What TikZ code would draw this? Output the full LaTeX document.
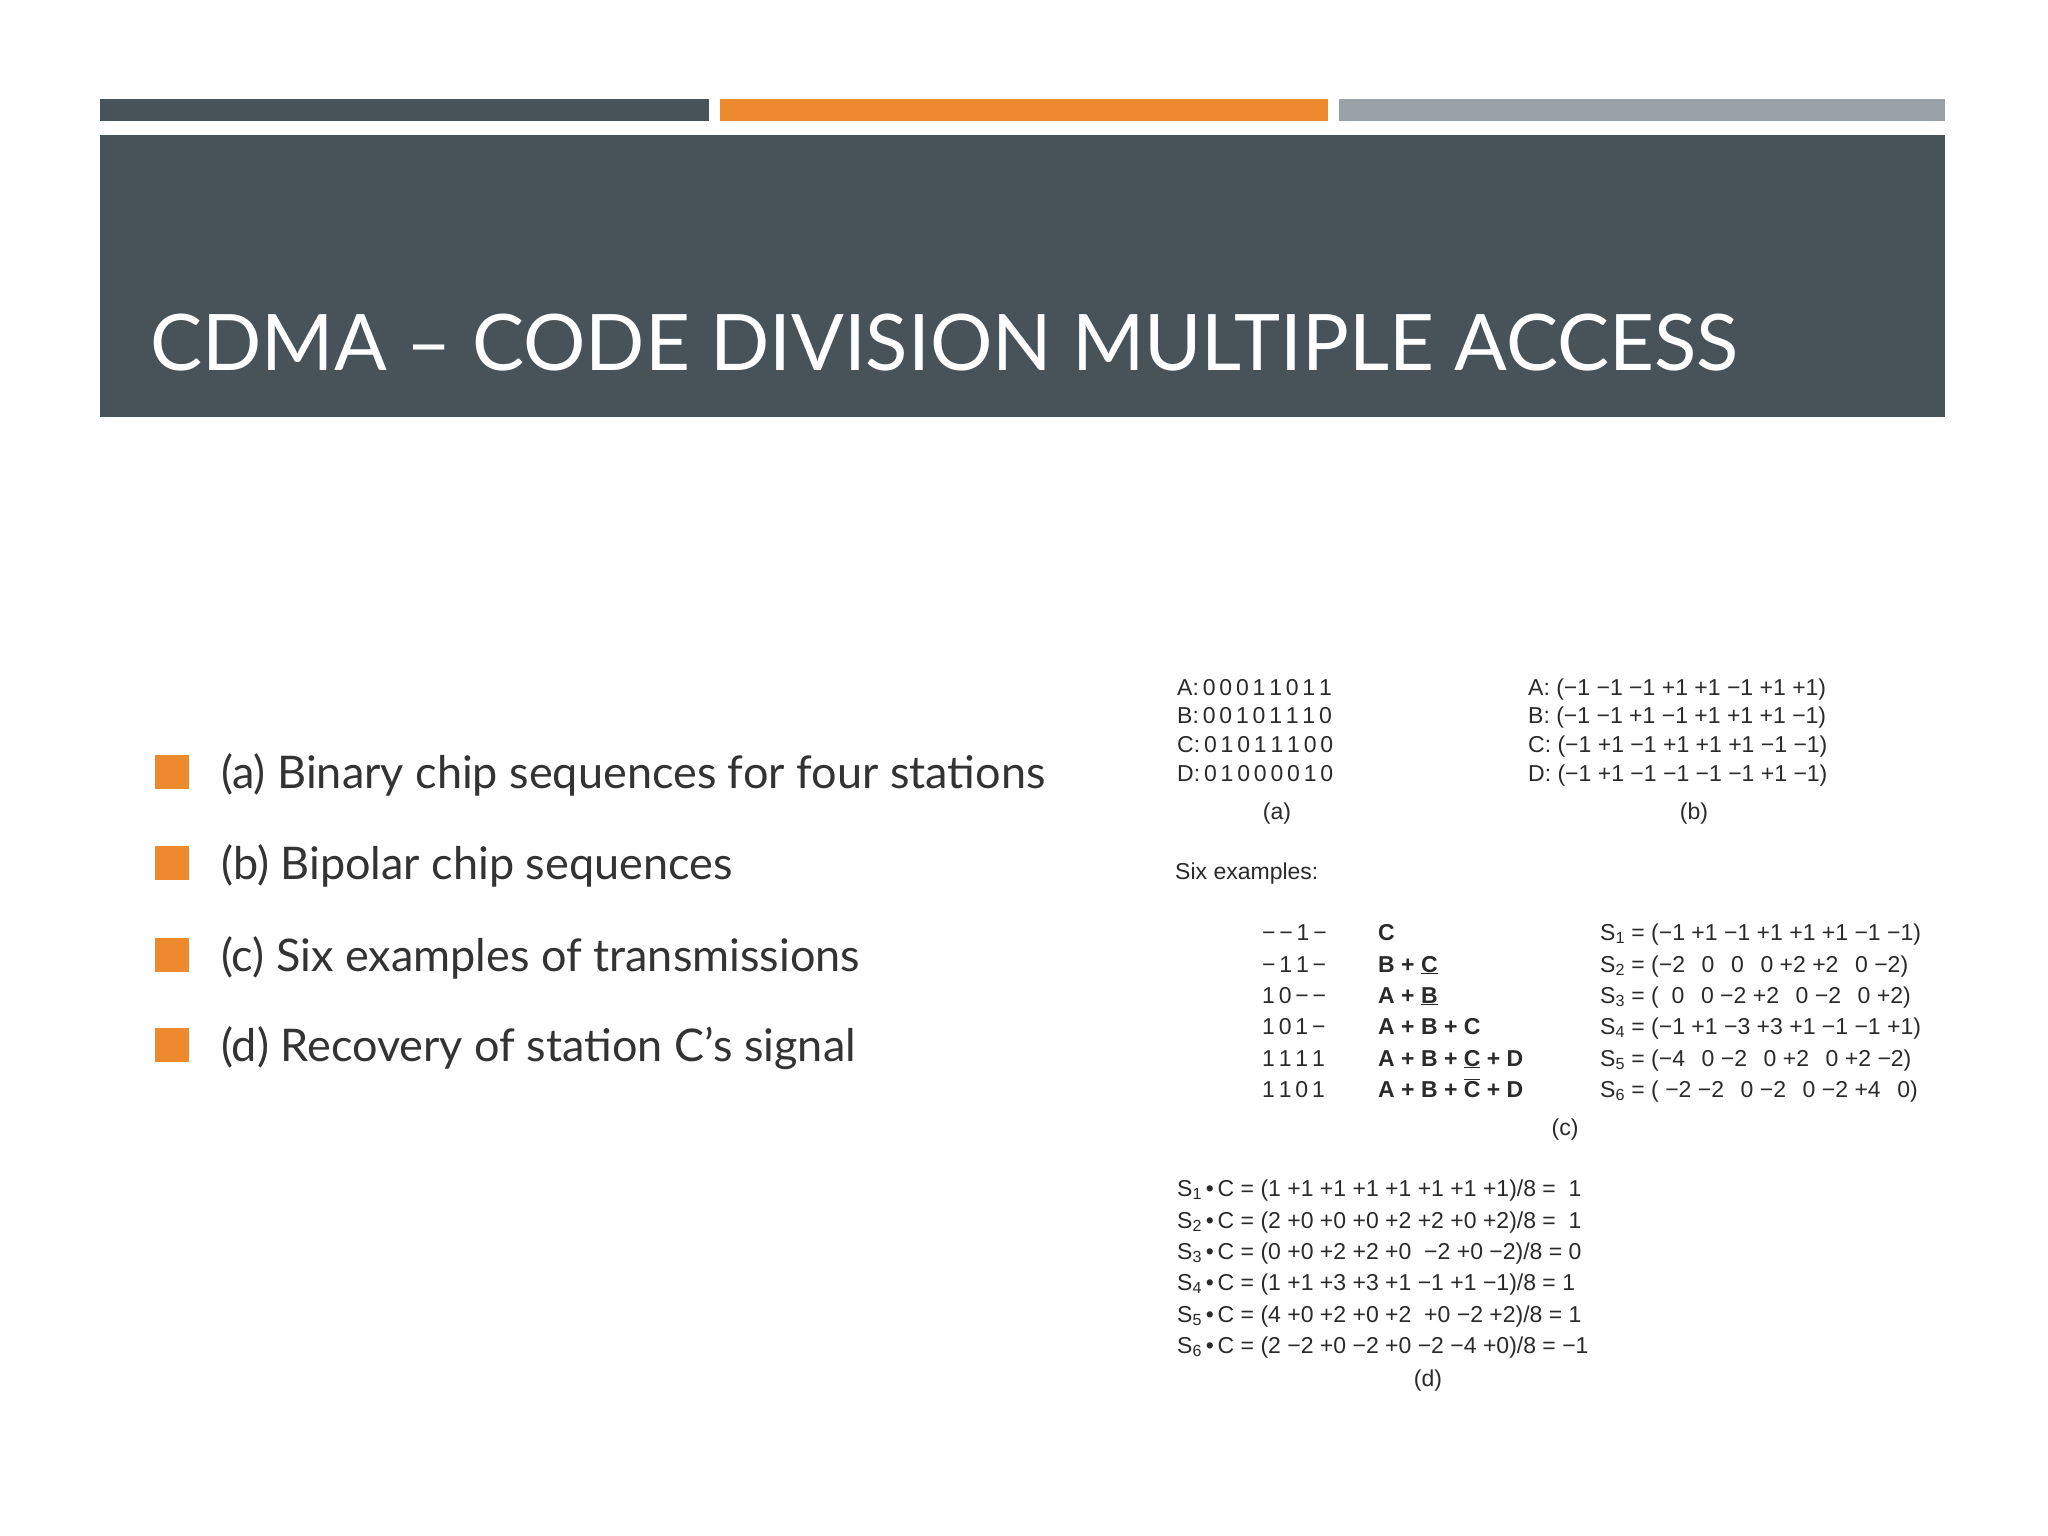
\documentclass[tikz,border=0pt]{standalone}
\usepackage{fontspec}
\setmainfont{Lato}
\newfontfamily\figfont{Liberation Sans}
\definecolor{hdr}{HTML}{475359}
\definecolor{org}{HTML}{EE8A2E}
\definecolor{gry}{HTML}{9AA2A8}
\definecolor{txt}{HTML}{333333}
\definecolor{ftx}{HTML}{2A2A2A}
\tikzset{
  bul/.style={fill=org,minimum size=34pt,inner sep=0pt},
  btxt/.style={anchor=base west,inner sep=0pt,font=\fontsize{45}{50}\selectfont,text=txt},
  ft/.style={anchor=base west,inner sep=0pt,font=\figfont\fontsize{23}{26}\selectfont,text=ftx},
  fc/.style={anchor=base,inner sep=0pt,font=\figfont\fontsize{23}{26}\selectfont,text=ftx},
  fb/.style={anchor=base west,inner sep=0pt,font=\figfont\bfseries\fontsize{23}{26}\selectfont,text=ftx}
}
\begin{document}
\begin{tikzpicture}[x=1pt,y=-1pt]
\useasboundingbox[fill=white] (0,0) rectangle (2048,1536);
\fill[hdr] (100,99) rectangle (709,121);
\fill[org] (720,99) rectangle (1328,121);
\fill[gry] (1339,99) rectangle (1945,121);
\fill[hdr] (100,135) rectangle (1945,417);
\node[anchor=base west,inner sep=0pt,text=white,font=\fontsize{78}{80}\selectfont] (title) at (150,370) {CDMA – CODE DIVISION MULTIPLE ACCESS};
% bullets
\foreach \y/\t [count=\i] in {772/{(a) Binary chip sequences for four stations},863/{(b) Bipolar chip sequences},955/{(c) Six examples of transmissions},1045/{(d) Recovery of station C’s signal}}{
  \node[bul] (b\i) at (172,\y) {};
  \node[btxt] (t\i) at (221,\y+16) {\t};
}
% (a)
\node[ft] (a1) at (1177,695) {A:\,0\,0\,0\,1\,1\,0\,1\,1};
\node[ft] (a2) at (1177,723) {B:\,0\,0\,1\,0\,1\,1\,1\,0};
\node[ft] (a3) at (1177,752) {C:\,0\,1\,0\,1\,1\,1\,0\,0};
\node[ft] (a4) at (1177,781) {D:\,0\,1\,0\,0\,0\,0\,1\,0};
\node[fc] (la) at (1277,819) {(a)};
% (b)
\node[ft] (b1x) at (1528,695) {A: (−1 −1 −1 +1 +1 −1 +1 +1)};
\node[ft] (b2x) at (1528,723) {B: (−1 −1 +1 −1 +1 +1 +1 −1)};
\node[ft] (b3x) at (1528,752) {C: (−1 +1 −1 +1 +1 +1 −1 −1)};
\node[ft] (b4x) at (1528,781) {D: (−1 +1 −1 −1 −1 −1 +1 −1)};
\node[fc] (lb) at (1694,819) {(b)};
\node[ft] (six) at (1175,879) {Six examples:};
% (c)
\foreach \y/\p [count=\i] in {940/{−\,−\,1\,−},972/{−\,1\,1\,−},1003/{1\,0\,−\,−},1034/{1\,0\,1\,−},1066/{1\,1\,1\,1},1097/{1\,1\,0\,1}}{
  \node[ft] (cp\i) at (1262,\y) {\p};
}
\node[fb] (cb1) at (1378,940) {C};
\node[fb] (cb2) at (1378,972) {B + \underline{C}};
\node[fb] (cb3) at (1378,1003) {A + \underline{B}};
\node[fb] (cb4) at (1378,1034) {A + B + C};
\node[fb] (cb5) at (1378,1066) {A + B + \underline{C} + D};
\node[fb] (cb6) at (1378,1097) {A + B + $\overline{\mbox{C}}$ + D};
\foreach \y/\s [count=\i] in {940/{(−1 +1 −1 +1 +1 +1 −1 −1)},972/{(−2 \ \,0 \ \,0 \ \,0 +2 +2 \ \,0 −2)},1003/{( \ 0 \ \,0 −2 +2 \ \,0 −2 \ \,0 +2)},1034/{(−1 +1 −3 +3 +1 −1 −1 +1)},1066/{(−4 \ \,0 −2 \ \,0 +2 \ \,0 +2 −2)},1097/{( −2 −2 \ \,0 −2 \ \,0 −2 +4 \ \,0)}}{
  \node[ft] (cs\i) at (1600,\y) {S\textsubscript{\i} = \s};
}
\node[fc] (lc) at (1565,1135) {(c)};
% (d)
\foreach \y/\s [count=\i] in {1196/{(1 +1 +1 +1 +1 +1 +1 +1)/8 = \ 1},1228/{(2 +0 +0 +0 +2 +2 +0 +2)/8 = \ 1},1259/{(0 +0 +2 +2 +0 \ −2 +0 −2)/8 = 0},1290/{(1 +1 +3 +3 +1 −1 +1 −1)/8 = 1},1322/{(4 +0 +2 +0 +2 \ +0 −2 +2)/8 = 1},1353/{(2 −2 +0 −2 +0 −2 −4 +0)/8 = −1}}{
  \node[ft] (d\i) at (1177,\y) {S\textsubscript{\i}\,•\,C = \s};
}
\node[fc] (ld) at (1428,1386) {(d)};
\end{tikzpicture}
\end{document}
